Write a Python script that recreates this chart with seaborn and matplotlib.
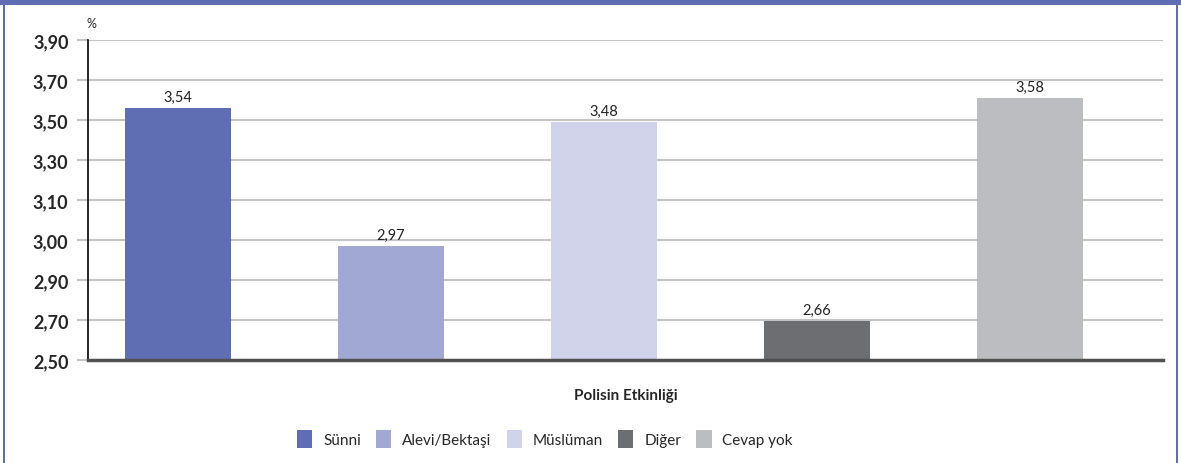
import matplotlib
matplotlib.use("Agg")
import matplotlib.pyplot as plt
import seaborn as sns
import pandas as pd
import numpy as np
from matplotlib.patches import Patch, Rectangle

# data
groups = ["Sünni", "Alevi/Bektaşi", "Müslüman", "Diğer", "Cevap yok"]
values = [3.54, 2.97, 3.48, 2.66, 3.58]
colors = ["#5f6db3", "#a2a8d4", "#d0d3e9", "#6d6e72", "#bcbdc0"]
tick_labels = ["2,50", "2,70", "2,90", "3,00", "3,10", "3,30", "3,50", "3,70", "3,90"]
x_title = "Polisin Etkinliği"

sns.set_style("white")
plt.rcParams["font.family"] = ["Lato", "DejaVu Sans"]

df = pd.DataFrame({"group": groups, "value": values})

fig = plt.figure(figsize=(11.81, 4.64), dpi=100)
ax = fig.add_axes([88 / 1181, 103 / 464, (1163 - 88) / 1181, 320 / 464])

sns.barplot(data=df, x="group", y="value", hue="group", order=groups,
            hue_order=groups, palette=colors, width=0.5, dodge=False,
            legend=False, ax=ax, saturation=1, edgecolor="none")

# axis runs linearly, labels are the ones printed on the original
ymin, ymax = 2.50, 3.82
ax.set_ylim(ymin, ymax)
ax.set_yticks(np.linspace(ymin, ymax, len(tick_labels)))
ax.set_yticklabels(tick_labels, fontsize=13, fontweight="bold")
ax.set_xlim(-0.4225, 4.624)
ax.set_xticks([])
ax.set_xlabel(x_title, fontsize=11, fontweight="bold", labelpad=20)
ax.set_ylabel("")

ax.yaxis.grid(True, color="#c4c4c4", linewidth=1.5)
ax.set_axisbelow(True)
ax.tick_params(axis="y", length=8, width=1.5, color="#c4c4c4", pad=6, left=True)
for s in ["top", "right"]:
    ax.spines[s].set_visible(False)
ax.spines["left"].set_color("black")
ax.spines["left"].set_linewidth(1.2)
ax.spines["bottom"].set_color("#505050")
ax.spines["bottom"].set_linewidth(2.5)
ax.spines["bottom"].set_zorder(5)

for cont in ax.containers:
    labels = ["{:.2f}".format(v).replace(".", ",") for v in cont.datavalues]
    ax.bar_label(cont, labels=labels, padding=3, fontsize=10.5, color="#222222")

ax.text(-0.001, 1.035, "%", transform=ax.transAxes, fontsize=9, ha="left", va="bottom")

handles = [Patch(facecolor=c, edgecolor="none") for c in colors]
fig.legend(handles, groups, loc="center", bbox_to_anchor=(545 / 1181, 1 - 440 / 464),
           ncol=5, frameon=False, fontsize=11, handlelength=1.0, handleheight=1.4,
           columnspacing=1.0, handletextpad=0.7)

# blue frame around the chart
frame_c = "#5f6db3"
fig.add_artist(Rectangle((0, 1 - 6 / 464), 1, 6 / 464, transform=fig.transFigure,
                         facecolor=frame_c, edgecolor="none"))
fig.add_artist(Rectangle((3 / 1181, 0), 2 / 1181, 1, transform=fig.transFigure,
                         facecolor=frame_c, edgecolor="none"))
fig.add_artist(Rectangle((1176 / 1181, 0), 2 / 1181, 1, transform=fig.transFigure,
                         facecolor=frame_c, edgecolor="none"))

fig.savefig("out.png", dpi=100)
